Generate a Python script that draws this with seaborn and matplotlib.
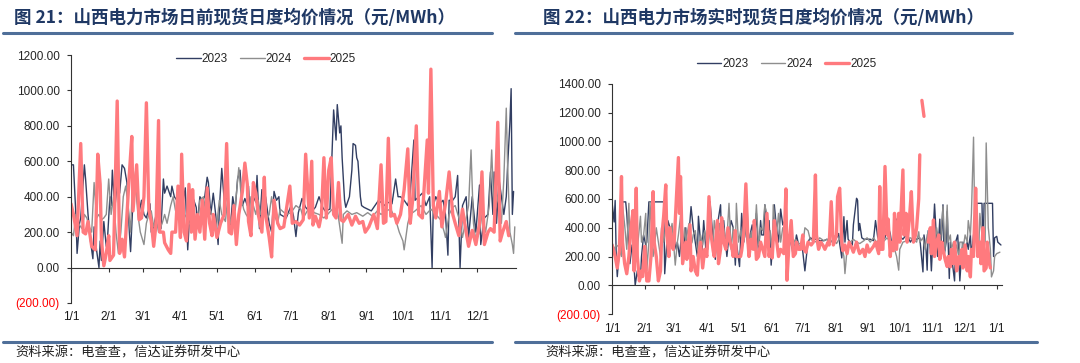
import numpy as np
import pandas as pd
import matplotlib
matplotlib.use("Agg")
import matplotlib.pyplot as plt
from matplotlib.lines import Line2D
import seaborn as sns

nan = np.nan

# ---------------- 图21 日前现货 (day-ahead), x = day of year ----------------
da_2023_day = [0, 2, 4, 5, 7, 8, 11, 12, 14, 16,
               18, 19, 21, 23, 24, 25, 27, 29, 30, 32,
               33, 34, 36, 38, 40, 42, 44, 46, 48, 49,
               51, 53, 55, 56, 58, 60, 62, 65, 66, 68,
               70, 72, 74, 76, 77, 79, 82, 83, 85, 87,
               88, 90, 92, 94, 96, 98, 99, 101, 103, 104,
               106, 108, 110, 112, 113, 115, 117, 119, 121, 122,
               124, 126, 128, 130, 131, 133, 135, 137, 139, 141,
               143, 145, 146, 148, 150, 152, 153, 155, 157, 159,
               160, 163, 165, 167, 169, 171, 172, 177, 181, 183,
               185, 187, 190, 193, 197, 201, 204, 207, 209, 213,
               216, 218, 219, 221, 222, 223, 225, 226, 228, 229,
               231, 232, 234, 235, 236, 238, 239, 241, 244, 247,
               249, 253, 258, 260, 264, 267, 269, 271, 274, 277,
               279, 282, 283, 286, 289, 292, 295, 297, 298, 300,
               303, 306, 308, 310, 311, 314, 316, 318, 320, 322,
               325, 327, 330, 333, 336, 337, 340, 343, 345, 347,
               348, 350, 352, 354, 356, 358, 359, 361, 362, 363, 364]
da_2023_val = [580, 580, 300, 80, 250, 280, 580, 500, 300, 150,
               50, 230, 100, 0, 150, 40, 260, 120, 160, 400,
               350, 550, 330, 480, 420, 580, 560, 480, 200, 90,
               380, 500, 340, 310, 380, 300, 280, 360, 200, 230,
               300, 380, 220, 500, 420, 460, 400, 460, 400, 380,
               400, 220, 360, 450, 100, 350, 420, 380, 340, 250,
               400, 380, 400, 510, 480, 300, 420, 300, 130, 330,
               560, 380, 400, 330, 200, 400, 320, 500, 550, 350,
               390, 350, 460, 200, 400, 370, 520, 220, 440, 380,
               400, 250, 200, 430, 380, 400, 300, 280, 350, 290,
               175, 310, 390, 340, 310, 340, 400, 340, 320, 330,
               890, 720, 920, 760, 800, 620, 380, 340, 380, 400,
               550, 700, 690, 620, 600, 400, 350, 340, 330, 320,
               340, 380, 350, 370, 360, 500, 400, 400, 380, 350,
               420, 720, 380, 400, 420, 350, 400, 0, 350, 400,
               360, 380, 300, 70, 380, 380, 400, 520, 0, 350,
               400, 170, 400, 200, 466, 130, 280, 300, 540, 300,
               540, 250, 500, 400, 300, 400, 560, 820, 1010, 300, 430]

da_2024_day = [0, 2, 4, 6, 9, 11, 13, 15, 17, 19,
               21, 23, 25, 27, 29, 31, 33, 35, 37, 39,
               41, 43, 45, 47, 49, 51, 54, 55, 57, 60,
               62, 64, 66, 68, 70, 72, 75, 77, 79, 82,
               84, 86, 88, 90, 93, 95, 97, 99, 101, 103,
               105, 106, 109, 111, 113, 116, 119, 120, 122, 124,
               127, 129, 131, 133, 135, 138, 140, 142, 144, 146,
               148, 150, 152, 154, 156, 159, 161, 163, 165, 167,
               170, 172, 177, 181, 185, 189, 191, 196, 200, 204,
               208, 211, 215, 219, 223, 224, 227, 231, 235, 240,
               244, 248, 252, 255, 259, 263, 267, 270, 273, 274,
               277, 279, 283, 288, 292, 296, 300, 304, 307, 308,
               311, 314, 316, 319, 322, 325, 327, 329, 331, 333,
               336, 338, 341, 344, 346, 348, 351, 354, 356, 358,
               359, 361, 363, 364, 365]
da_2024_val = [200, 180, 300, 250, 220, 300, 280, 230, 200, 480,
               280, 300, 270, 280, 300, 500, 300, 400, 200, 80,
               200, 400, 460, 350, 200, 560, 400, 300, 200, 130,
               250, 300, 320, 230, 280, 200, 250, 300, 250, 350,
               400, 320, 350, 250, 280, 300, 250, 240, 350, 220,
               300, 380, 400, 300, 350, 300, 200, 250, 380, 300,
               260, 400, 250, 300, 340, 564, 400, 330, 300, 280,
               400, 350, 300, 380, 300, 320, 270, 300, 400, 300,
               250, 330, 300, 310, 350, 330, 280, 340, 310, 300,
               280, 300, 330, 330, 137, 300, 320, 300, 310, 290,
               310, 290, 320, 300, 320, 330, 270, 200, 150, 100,
               250, 300, 320, 350, 300, 330, 300, 270, 200, 170,
               300, 340, 350, 280, 170, 280, 350, 664, 250, 150,
               200, 300, 200, 350, 664, 300, 400, 250, 500, 900,
               600, 200, 130, 80, 230]

da_2025_day = [0, 2, 5, 8, 10, 12, 14, 17, 20, 22,
               24, 25, 27, 29, 31, 32, 35, 38, 40, 42,
               44, 46, 48, 50, 51, 54, 56, 58, 60, 62,
               64, 66, 68, 70, 72, 73, 76, 77, 80, 82,
               83, 86, 88, 90, 91, 93, 95, 97, 99, 100,
               102, 104, 106, 108, 110, 112, 114, 116, 117, 120,
               123, 126, 128, 130, 132, 134, 136, 138, 141, 143,
               145, 146, 148, 150, 152, 154, 157, 159, 160, 163,
               165, 167, 170, 172, 175, 180, 182, 185, 188, 191,
               193, 196, 198, 199, 201, 204, 206, 208, 210, 212,
               214, 216, 218, 220, 222, 224, 228, 231, 234, 237,
               240, 242, 245, 249, 252, 255, 257, 259, 261, 263,
               266, 268, 271, 274, 277, 279, 281, 284, 286, 289,
               290, 293, 294, 296, 298, 300, 303, 305, 308, 311,
               314, 316, 319, 322, 325, 327, 330, 333, 336, 338,
               340, 343, 345, 348, 351, 353, 355, 358, 360]
da_2025_val = [360, 300, 180, 700, 200, 190, 260, 120, 100, 640,
               470, 160, 10, 80, 180, 40, 70, 940, 80, 160,
               60, 300, 530, 740, 320, 580, 270, 280, 400, 930,
               330, 260, 120, 250, 830, 200, 200, 140, 100, 80,
               200, 200, 460, 170, 640, 200, 150, 470, 200, 440,
               160, 300, 200, 380, 160, 450, 250, 180, 300, 170,
               250, 300, 700, 200, 190, 350, 130, 300, 430, 590,
               470, 260, 180, 480, 420, 300, 200, 510, 300, 170,
               60, 380, 250, 220, 230, 460, 250, 260, 240, 270,
               640, 280, 600, 240, 290, 230, 300, 620, 280, 550,
               620, 300, 280, 480, 270, 260, 300, 240, 290, 250,
               260, 200, 230, 300, 220, 580, 250, 260, 730, 290,
               300, 250, 300, 440, 670, 250, 380, 800, 300, 280,
               400, 720, 420, 1120, 350, 280, 430, 230, 360, 540,
               300, 250, 180, 330, 200, 120, 210, 130, 250, 540,
               130, 200, 220, 200, 820, 150, 200, 260, 180]

# ---------------- 图22 实时现货 (real-time), x = day of year ----------------
rt_2023_day = [0, 2, 3, 4, 5, 7, 9, 10, 13, 14,
               16, 17, 19, 21, 22, 24, 25, 27, 28, 30,
               32, 33, 35, 49, 50, 52, 53, 55, 57, 58,
               61, 62, 64, 66, 68, 70, 71, 74, 75, 77,
               79, 81, 82, 84, 85, 87, 89, 91, 93, 95,
               96, 98, 100, 103, 104, 106, 107, 109, 111, 113,
               115, 117, 118, 121, 123, 125, 127, 130, 131, 133,
               135, 137, 139, 141, 142, 144, 145, 148, 149, 151,
               153, 154, 156, 158, 160, 162, 164, 166, 168, 171,
               172, 174, 175, 178, 180, 183, 185, 186, 188, 191,
               194, 197, 201, 204, 207, 210, 213, 215, 216, 218,
               220, 221, 223, 224, 226, 228, 229, 232, 233, 234,
               235, 237, 239, 242, 245, 248, 250, 252, 254, 257,
               259, 261, 264, 266, 268, 270, 272, 273, 276, 280,
               283, 286, 289, 292, 295, 296, 298, 299, 300, 302,
               303, 306, 308, 309, 311, 312, 314, 315, 317, 318,
               320, 321, 323, 325, 326, 328, 330, 332, 333, 335,
               337, 338, 340, 341, 343, 344, 346, 351, 352, 353,
               361, 362, 363, 365, 366, 369]
rt_2023_val = [580, 440, 590, 200, 60, 250, 300, 580, 580, 500,
               250, 150, 280, 120, 0, 100, 60, 40, 200, 350,
               280, 300, 580, 580, 80, 300, 450, 400, 300, 350,
               250, 300, 200, 350, 260, 400, 200, 450, 547, 400,
               300, 200, 480, 300, 180, 450, 250, 350, 580, 400,
               300, 180, 420, 560, 300, 450, 350, 200, 350, 450,
               400, 140, 300, 130, 500, 300, 400, 200, 350, 420,
               300, 500, 220, 450, 350, 350, 560, 400, 450, 140,
               350, 560, 400, 300, 530, 420, 450, 300, 350, 250,
               200, 300, 350, 250, 300, 100, 240, 300, 330, 320,
               320, 310, 310, 320, 300, 310, 330, 360, 290, 190,
               477, 300, 450, 320, 300, 280, 420, 605, 590, 380,
               430, 330, 320, 320, 320, 310, 450, 340, 300, 320,
               330, 430, 360, 250, 330, 460, 380, 340, 320, 360,
               300, 330, 320, 330, 93, 350, 240, 105, 380, 250,
               100, 565, 300, 200, 460, 250, 560, 200, 300, 512,
               47, 300, 150, 30, 300, 350, 30, 250, 300, 220,
               300, 250, 350, 200, 350, 380, 570, 570, 220, 570,
               570, 200, 330, 340, 300, 280]

rt_2024_day = [0, 2, 4, 6, 9, 10, 12, 14, 16, 17,
               19, 21, 22, 24, 27, 28, 30, 32, 33, 35,
               36, 39, 40, 42, 44, 46, 47, 49, 51, 52,
               54, 55, 57, 58, 60, 62, 63, 65, 66, 69,
               70, 73, 74, 76, 77, 79, 81, 82, 84, 86,
               88, 91, 93, 96, 97, 99, 100, 102, 104, 106,
               107, 109, 111, 113, 115, 117, 118, 120, 122, 124,
               126, 128, 130, 132, 134, 135, 137, 139, 141, 143,
               145, 147, 148, 150, 152, 153, 156, 158, 160, 162,
               164, 166, 167, 170, 172, 174, 175, 178, 180, 182,
               183, 186, 188, 191, 194, 197, 201, 204, 207, 210,
               213, 216, 218, 220, 221, 223, 226, 229, 232, 235,
               239, 242, 245, 248, 251, 254, 257, 261, 264, 267,
               270, 272, 273, 276, 280, 283, 286, 289, 291, 292,
               295, 297, 299, 302, 303, 305, 306, 308, 310, 311,
               313, 314, 316, 318, 319, 321, 322, 324, 325, 327,
               329, 330, 332, 333, 335, 337, 338, 340, 341, 343,
               344, 346, 348, 349, 351, 352, 354, 355, 357, 359,
               360, 362, 363, 365, 368]
rt_2024_val = [300, 250, 280, 270, 200, 550, 420, 250, 570, 280,
               520, 300, 220, 250, 480, 300, 350, 500, 100, 300,
               580, 200, 250, 400, 300, 200, 400, 300, 400, 380,
               250, 350, 430, 330, 140, 300, 350, 480, 220, 400,
               300, 430, 270, 300, 350, 380, 250, 230, 350, 280,
               380, 250, 400, 300, 450, 350, 300, 430, 300, 400,
               350, 320, 570, 250, 400, 230, 570, 300, 380, 280,
               340, 570, 250, 370, 250, 300, 560, 280, 400, 380,
               560, 480, 300, 380, 250, 560, 350, 500, 300, 400,
               380, 250, 300, 350, 290, 320, 300, 290, 280, 340,
               400, 380, 320, 310, 300, 330, 310, 320, 300, 320,
               290, 330, 270, 200, 81, 250, 300, 320, 300, 290,
               310, 330, 300, 330, 300, 320, 300, 330, 300, 280,
               200, 105, 250, 300, 310, 330, 320, 300, 372, 300,
               330, 250, 350, 400, 300, 450, 250, 400, 300, 200,
               450, 550, 250, 558, 300, 350, 250, 300, 230, 280,
               200, 300, 300, 250, 350, 300, 450, 350, 500, 1030,
               500, 300, 250, 500, 350, 400, 300, 990, 400, 250,
               58, 100, 200, 220, 230]

rt_2025_day = [0, 2, 3, 5, 7, 9, 10, 12, 14, 16,
               18, 20, 21, 23, 24, 26, 28, 29, 31, 33,
               35, 37, 39, 40, 42, 44, 46, 47, 49, 51,
               52, 54, 55, 58, 59, 63, 64, 65, 67, 70,
               71, 74, 75, 77, 79, 81, 82, 84, 86, 88,
               90, 92, 94, 96, 97, 100, 101, 103, 104, 106,
               108, 110, 112, 114, 115, 117, 118, 120, 122, 123,
               125, 127, 129, 130, 132, 134, 135, 137, 139, 141,
               143, 145, 147, 149, 150, 152, 154, 156, 158, 160,
               163, 165, 166, 168, 170, 172, 174, 175, 177, 179,
               181, 182, 184, 186, 189, 191, 193, 194, 196, 198,
               200, 202, 205, 206, 208, 210, 211, 213, 214, 216,
               218, 219, 221, 223, 225, 228, 229, 232, 234, 235,
               238, 240, 242, 244, 246, 248, 250, 253, 254, 255,
               257, 259, 261, 262, 264, 265, 267, 268, 270, 272,
               273, 276, 277, 279, 280, 282, 284, 286, 288, 289,
               291, 292, 293, 294, 296, 298, 300, 302, 303, 305,
               306, 308, 310, 311, 313, 314, 316, 318, 319, 321,
               322, 324, 325, 327, 329, 330, 332, 333, 335, 337,
               338, 340, 341, 343, 344, 345, 347, 349, 350, 352,
               353, 355, 356, 358, 359]
rt_2025_val = [280, 230, 200, 120, 240, 756, 300, 150, 80, 200,
               400, 520, 100, 675, 200, 30, 100, 60, 270, 30,
               30, 200, 651, 300, 200, 30, 100, 320, 480, 698,
               350, 200, 400, 250, 300, 888, 500, 756, 150, 300,
               180, 420, 100, 200, 100, 70, 200, 300, 120, 250,
               200, 616, 350, 240, 200, 450, 150, 250, 470, 300,
               250, 400, 300, 250, 200, 380, 200, 200, 200, 240,
               360, 705, 300, 200, 320, 250, 450, 180, 200, 300,
               250, 200, 500, 200, 250, 190, 450, 320, 200, 250,
               220, 670, 35, 300, 450, 200, 220, 300, 250, 250,
               350, 250, 230, 300, 280, 300, 767, 350, 250, 300,
               280, 250, 300, 280, 581, 280, 300, 350, 616, 675,
               300, 240, 280, 220, 300, 250, 230, 300, 240, 220,
               250, 200, 280, 230, 250, 270, 300, 220, 686, 250,
               250, 826, 350, 460, 200, 300, 240, 500, 250, 500,
               300, 802, 350, 500, 300, 450, 651, 300, 350, 400,
               600, 907, nan, 1286, 1175, nan, 300, 400, 220, 454,
               200, 300, 350, 180, 300, 250, 180, 130, 200, 128,
               250, 150, 300, 100, 200, 150, 250, 120, 280, 100,
               200, 58, 250, 200, 450, 675, 200, 300, 150, 400,
               100, 120, 300, 150, 120]

years = ["2023", "2024", "2025"]
da_yticks = [-200, 0, 200, 400, 600, 800, 1000, 1200]
rt_yticks = [-200, 0, 200, 400, 600, 800, 1000, 1200, 1400]
month_labels = ["1/1", "2/1", "3/1", "4/1", "5/1", "6/1", "7/1",
                "8/1", "9/1", "10/1", "11/1", "12/1", "1/1"]
titles = ["图 21：山西电力市场日前现货日度均价情况（元/MWh）",
          "图 22：山西电力市场实时现货日度均价情况（元/MWh）"]
source = "资料来源：电查查，信达证券研发中心"

colors = {"2023": "#323E62", "2024": "#8E8E8E", "2025": "#FF7A7E"}
widths = {"2023": 1.0, "2024": 1.0, "2025": 2.4}

sns.set_theme(style="white")
plt.rcParams["font.family"] = ["Liberation Sans", "Noto Sans CJK SC"]
plt.rcParams["axes.unicode_minus"] = False


def build(days_list, vals_list):
    frames = []
    for yr, d, v in zip(years, days_list, vals_list):
        df = pd.DataFrame({"day": d, "price": v})
        # a missing value breaks the line into separate pieces
        df["seg"] = yr + "_" + df["price"].isna().cumsum().astype(str)
        df["year"] = yr
        frames.append(df.dropna())
    return pd.concat(frames, ignore_index=True)


month_starts = pd.date_range("2025-01-01", "2026-01-01", freq="MS")
month_pos = list((month_starts - month_starts[0]).days)


def draw(ax, data, yticks, xmax, nmonths, xpad, legend_anchor):
    sns.lineplot(data=data, x="day", y="price", hue="year", size="year",
                 units="seg", estimator=None, hue_order=years,
                 palette=colors, sizes=widths, legend=False, ax=ax)
    ax.set_xlim(0, xmax)
    ax.set_ylim(yticks[0], yticks[-1])
    ax.set_xlabel("")
    ax.set_ylabel("")
    for s in ["top", "right"]:
        ax.spines[s].set_visible(False)
    ax.spines["bottom"].set_position(("data", 0))
    for s in ["left", "bottom"]:
        ax.spines[s].set_color("#333333")
        ax.spines[s].set_linewidth(0.8)
    ax.set_xticks(month_pos[:nmonths], month_labels[:nmonths])
    ax.set_yticks(yticks,
                  [f"({abs(v):.2f})" if v < 0 else f"{v:.2f}" for v in yticks])
    for lab, v in zip(ax.get_yticklabels(), yticks):
        if v < 0:
            lab.set_color("#FF0000")
    ax.tick_params(axis="x", bottom=True, direction="out", length=3, width=0.8,
                   color="#333333", pad=xpad, labelsize=8.5, labelcolor="#1a1a1a")
    ax.tick_params(axis="y", left=True, direction="out", length=3, width=0.8,
                   color="#333333", pad=5, labelsize=8.5)
    handles = [Line2D([], [], color=colors[y], lw=widths[y]) for y in years]
    ax.legend(handles, years, loc="center", bbox_to_anchor=legend_anchor,
              ncol=3, frameon=False, fontsize=8.5, handlelength=2.1,
              handletextpad=0.1, columnspacing=1.0)
    ax.patch.set_alpha(0)


fig = plt.figure(figsize=(10.8, 3.63), dpi=100)
W, H = 1080, 363
ax1 = fig.add_axes([71 / W, 1 - 303 / H, 445 / W, 248 / H])
ax2 = fig.add_axes([612 / W, 1 - 314 / H, 390 / W, 230 / H])

draw(ax1, build([da_2023_day, da_2024_day, da_2025_day],
                [da_2023_val, da_2024_val, da_2025_val]),
     da_yticks, 366, 12, 28, (0.438, 0.985))
draw(ax2, build([rt_2023_day, rt_2024_day, rt_2025_day],
                [rt_2023_val, rt_2024_val, rt_2025_val]),
     rt_yticks, 370, 13, 24, (0.448, 1.087))

# titles, rules and source notes
band = "#4F6F99"
for x0, x1, xt, title in [(3, 492, 14, titles[0]), (515, 1012, 543, titles[1])]:
    fig.text(xt / W, 1 - 18 / H, title, fontsize=12.6, fontweight="bold",
             color="#1F3864", va="center", family=["Noto Sans CJK SC"])
    fig.add_artist(Line2D([x0 / W, x1 / W], [1 - 32.5 / H] * 2, color=band, lw=2.2))
for x0, x1, xt in [(3, 492, 15), (515, 1037, 545)]:
    fig.add_artist(Line2D([x0 / W, x1 / W], [1 - 342 / H] * 2, color=band, lw=2.2))
    fig.text(xt / W, 1 - 353 / H, source, fontsize=9.5, color="#222222",
             va="center", family=["Noto Sans CJK SC"])

fig.savefig("out.png", dpi=100)
